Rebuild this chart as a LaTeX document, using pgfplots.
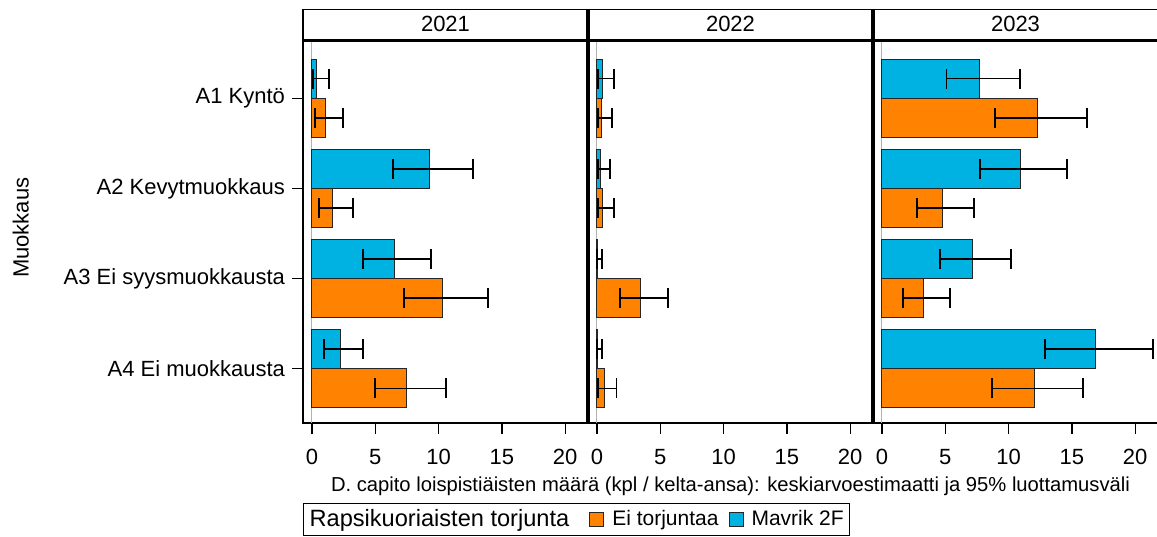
\documentclass[border=0pt]{standalone}
\usepackage{pgfplots}
\pgfplotsset{compat=1.18}
\usepgfplotslibrary{groupplots}
\usepackage{pgfplotstable}
\usepackage{fontspec}
\setmainfont{Liberation Sans}

\definecolor{eiorange}{RGB}{255,130,0}
\definecolor{mavblue}{RGB}{0,178,226}

% y = muokkaus (1..4), x = estimate, em/ep = distance to lower/upper CI limit
\pgfplotstableread{
y x em ep
1 0.37 0.27 0.95
2 9.28 2.85 3.42
3 6.48 2.42 2.90
4 2.27 1.32 1.79
}\mavA
\pgfplotstableread{
y x em ep
1 1.10 0.84 1.38
2 1.63 1.05 1.58
3 10.33 3.06 3.57
4 7.48 2.53 3.12
}\eiA
\pgfplotstableread{
y x em ep
1 0.45 0.35 0.91
2 0.28 0.23 0.72
3 0.02 0.02 0.40
4 0.02 0.02 0.40
}\mavB
\pgfplotstableread{
y x em ep
1 0.37 0.27 0.81
2 0.45 0.35 0.88
3 3.46 1.65 2.14
4 0.58 0.48 0.96
}\eiB
\pgfplotstableread{
y x em ep
1 7.74 2.64 3.13
2 10.92 3.16 3.66
3 7.16 2.56 3.00
4 16.90 4.00 4.50
}\mavC
\pgfplotstableread{
y x em ep
1 12.32 3.37 3.88
2 4.74 1.98 2.52
3 3.24 1.61 2.13
4 12.05 3.35 3.85
}\eiC

\pgfplotsset{
  mav/.style={fill=mavblue, draw=black!85, line width=0.5pt, /pgf/bar shift=-0.2167},
  ei/.style={fill=eiorange, draw=black!85, line width=0.5pt, /pgf/bar shift=0.2167},
}

\begin{document}
\begin{tikzpicture}
\begin{groupplot}[
  group style={group size=3 by 1, horizontal sep=0pt, group name=g},
  scale only axis, width=142.5pt, height=191.5pt,
  xmin=-0.71, xmax=21.8, ymin=0.356, ymax=4.6, y dir=reverse,
  xtick={0,5,10,15,20}, xtick pos=bottom, ytick pos=left,
  tick align=outside, major tick length=5.5pt,
  ticklabel style={font=\fontsize{11}{13}\selectfont},
  xticklabel style={yshift=-4pt},
  /pgf/number format/assume math mode=true,
  axis line style={line width=0.6pt},
  tick style={line width=0.6pt, black},
  xbar, /pgf/bar width=0.433,
  extra x ticks={0}, extra x tick labels={},
  extra x tick style={grid=major, major grid style={gray!60, line width=0.5pt}},
  error bars/x dir=both, error bars/x explicit,
  error bars/error bar style={line width=0.9pt, black},
  error bars/error mark options={black, line width=0.9pt, mark size=5pt, rotate=90},
  legend image code/.code={\path (-3pt,0pt); \draw[#1] (0pt,-3.5pt) rectangle (7pt,3.5pt); \path (9pt,0pt);},
  every axis title shift=0pt,
  title style={at={(0.5,1)}, anchor=south, draw, line width=0.6pt,
    minimum width=142.5pt, minimum height=15pt, inner sep=0pt,
    font=\fontsize{11}{13}\selectfont},
]
\nextgroupplot[
  title=2021,
  ytick={1,2,3,4},
  yticklabels={A1 Kyntö, A2 Kevytmuokkaus, A3 Ei syysmuokkausta, A4 Ei muokkausta},
  ylabel=Muokkaus,
  ylabel style={at={(axis description cs:-0.99,0.51)}, anchor=center,
    font=\fontsize{11}{13}\selectfont},
  legend columns=-1,
  legend style={at={(0,-0.209)}, anchor=north west, draw=black, line width=0.6pt,
    font=\fontsize{10.5}{12}\selectfont, inner sep=1pt},
]
\addlegendimage{empty legend}
\addlegendentry{\fontsize{11.8}{13}\selectfont Rapsikuoriaisten torjunta\kern5pt}
\addplot[ei] table[x=x, y=y, x error minus=em, x error plus=ep] {\eiA};
\addlegendentry{Ei torjuntaa}
\addplot[mav] table[x=x, y=y, x error minus=em, x error plus=ep] {\mavA};
\addlegendentry{Mavrik 2F}

\nextgroupplot[
  title=2022, ytick=\empty,
  xlabel={D. capito loispistiäisten määrä (kpl / kelta-ansa): keskiarvoestimaatti ja 95\% luottamusväli},
  xlabel style={at={(axis description cs:0.5,-0.165)}, anchor=center,
    font=\fontsize{10.1}{12}\selectfont},
]
\addplot[ei] table[x=x, y=y, x error minus=em, x error plus=ep] {\eiB};
\addplot[mav] table[x=x, y=y, x error minus=em, x error plus=ep] {\mavB};

\nextgroupplot[title=2023, ytick=\empty]
\addplot[ei] table[x=x, y=y, x error minus=em, x error plus=ep] {\eiC};
\addplot[mav] table[x=x, y=y, x error minus=em, x error plus=ep] {\mavC};
\end{groupplot}

% panel separators and strip border
\draw[line width=1.5pt] (g c1r1.north west) -- (g c3r1.north east);
\draw[line width=2pt] ([yshift=15pt]g c1r1.north east) -- (g c1r1.south east);
\draw[line width=2pt] ([yshift=15pt]g c2r1.north east) -- (g c2r1.south east);

\pgfresetboundingbox
\useasboundingbox ([xshift=-151.5pt,yshift=-56.5pt]g c1r1.south west)
  rectangle ([xshift=427pt,yshift=211.5pt]g c1r1.south west);
\end{tikzpicture}
\end{document}
